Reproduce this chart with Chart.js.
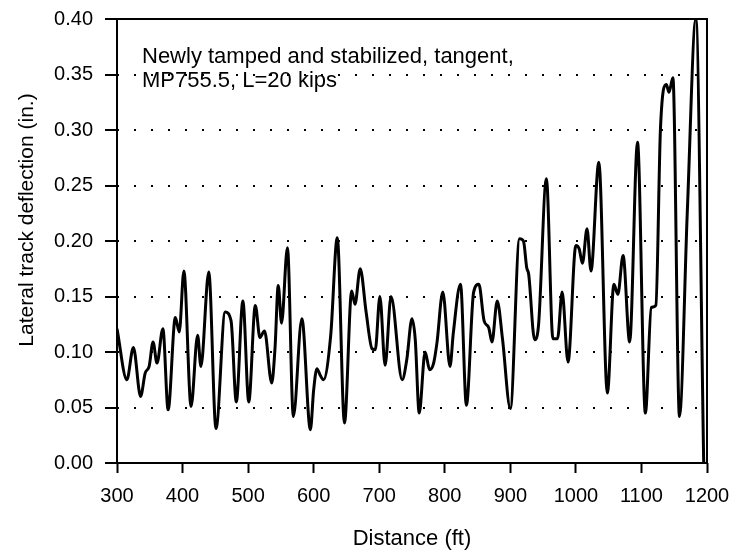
<!DOCTYPE html>
<html>
<head>
<meta charset="utf-8">
<script src="https://cdn.jsdelivr.net/npm/chart.js@4.4.1/dist/chart.umd.min.js"></script>
<style>
  body { margin: 0; background: #fff; }
  #wrap { width: 736px; height: 551px; position: relative; }
</style>
</head>
<body>
<div id="wrap"><canvas id="chart"></canvas></div>
<script>
// Lateral track deflection vs distance
const distance = [
  300, 315, 325, 336, 343, 349, 355, 361, 370, 378, 389, 395, 402, 413, 423, 428,
  440, 451, 465, 474, 482, 492, 501, 511, 518, 525, 536, 541, 546, 551, 560, 569,
  582, 595, 600, 605, 610, 615, 626, 636, 647, 658, 663, 671, 680, 689, 694, 701,
  709, 718, 735, 742, 750, 755, 761, 770, 777, 783, 788, 797, 808, 813, 824, 833,
  844, 852, 860, 867, 872, 880, 888, 900, 914, 920, 925, 928, 937, 943, 955, 965,
  972, 979, 988, 1000, 1005, 1010, 1017, 1023, 1035, 1048, 1058, 1064, 1072, 1082,
  1094, 1106, 1115, 1122, 1129, 1138, 1142, 1148, 1158, 1170, 1183, 1195
];
const deflection = [
  0.121, 0.075, 0.104, 0.060, 0.081, 0.087, 0.109, 0.090, 0.121, 0.048, 0.131, 0.118, 0.173, 0.051, 0.115, 0.087,
  0.172, 0.031, 0.136, 0.128, 0.055, 0.146, 0.055, 0.142, 0.113, 0.119, 0.072, 0.103, 0.160, 0.126, 0.194, 0.042,
  0.130, 0.030, 0.066, 0.085, 0.079, 0.075, 0.115, 0.203, 0.036, 0.155, 0.143, 0.175, 0.136, 0.103, 0.102, 0.150,
  0.088, 0.150, 0.075, 0.093, 0.130, 0.111, 0.045, 0.100, 0.084, 0.090, 0.108, 0.154, 0.087, 0.117, 0.161, 0.052,
  0.154, 0.161, 0.128, 0.122, 0.109, 0.146, 0.112, 0.049, 0.202, 0.200, 0.176, 0.170, 0.111, 0.124, 0.256, 0.112,
  0.112, 0.154, 0.091, 0.196, 0.193, 0.180, 0.211, 0.173, 0.271, 0.063, 0.161, 0.152, 0.187, 0.109,
  0.289, 0.045, 0.140, 0.142, 0.301, 0.341, 0.334, 0.347, 0.042, 0.227, 0.400, 0.000
];

const xTicks = [300, 400, 500, 600, 700, 800, 900, 1000, 1100, 1200];
const yTicks = [0, 0.05, 0.10, 0.15, 0.20, 0.25, 0.30, 0.35, 0.40];

const noteLines = ['Newly tamped and stabilized, tangent,', 'MP755.5, L=20 kips'];
const yTitle = 'Lateral track deflection (in.)';
const xTitle = 'Distance (ft)';

const FONT = '"Liberation Sans", Arial, Helvetica, sans-serif';

// frame around the plot area + note + rotated y title
const framePlugin = {
  id: 'frame',
  afterDraw(chart) {
    const { ctx, chartArea: a } = chart;
    ctx.save();
    ctx.strokeStyle = '#000';
    ctx.lineWidth = 2;
    ctx.strokeRect(a.left, a.top, a.right - a.left, a.bottom - a.top);

    ctx.fillStyle = '#000';
    ctx.font = '22px ' + FONT;
    ctx.textBaseline = 'alphabetic';
    ctx.textAlign = 'left';
    ctx.fillText(noteLines[0], 142, 63);
    ctx.fillText(noteLines[1], 142, 87);

    ctx.font = '21px ' + FONT;
    ctx.translate(27, 220);
    ctx.rotate(-Math.PI / 2);
    ctx.textAlign = 'center';
    ctx.textBaseline = 'middle';
    ctx.fillText(yTitle, 0, 0);
    ctx.restore();
  }
};

new Chart(document.getElementById('chart'), {
  type: 'line',
  data: {
    datasets: [{
      data: distance.map((d, i) => ({ x: d, y: deflection[i] })),
      borderColor: '#000',
      borderWidth: 3,
      pointRadius: 0,
      cubicInterpolationMode: 'monotone',
      fill: false
    }]
  },
  options: {
    responsive: true,
    maintainAspectRatio: false,
    animation: false,
    layout: { padding: { left: 0, right: 29, top: 19, bottom: 0 } },
    plugins: { legend: { display: false }, tooltip: { enabled: false } },
    scales: {
      x: {
        type: 'linear',
        min: 300,
        max: 1200,
        afterBuildTicks: s => { s.ticks = xTicks.map(v => ({ value: v })); },
        afterFit: s => { s.height = 88; s.paddingLeft = 0; s.paddingRight = 0; },
        ticks: {
          color: '#000',
          padding: 11,
          maxRotation: 0,
          font: { family: FONT, size: 20 },
          callback: v => String(v)
        },
        grid: { drawOnChartArea: false, tickLength: 10, tickColor: '#000', tickWidth: 2 },
        border: { display: false },
        title: {
          display: true,
          text: xTitle,
          color: '#000',
          font: { family: FONT, size: 22, lineHeight: 1 },
          padding: { top: 0, bottom: 1 }
        }
      },
      y: {
        min: 0,
        max: 0.4,
        afterBuildTicks: s => { s.ticks = yTicks.map(v => ({ value: v })); },
        afterFit: s => { s.width = 117; s.paddingTop = 0; s.paddingBottom = 0; },
        ticks: {
          color: '#000',
          padding: 12,
          font: { family: FONT, size: 20 },
          callback: v => v.toFixed(2)
        },
        grid: {
          color: c => (c.tick && c.tick.value > 0.001 && c.tick.value < 0.399) ? '#000' : 'rgba(0,0,0,0)',
          lineWidth: 2,
          tickLength: 12,
          tickColor: '#000',
          tickWidth: 2
        },
        border: { display: false, dash: [2, 15] }
      }
    }
  },
  plugins: [framePlugin]
});
</script>
</body>
</html>
